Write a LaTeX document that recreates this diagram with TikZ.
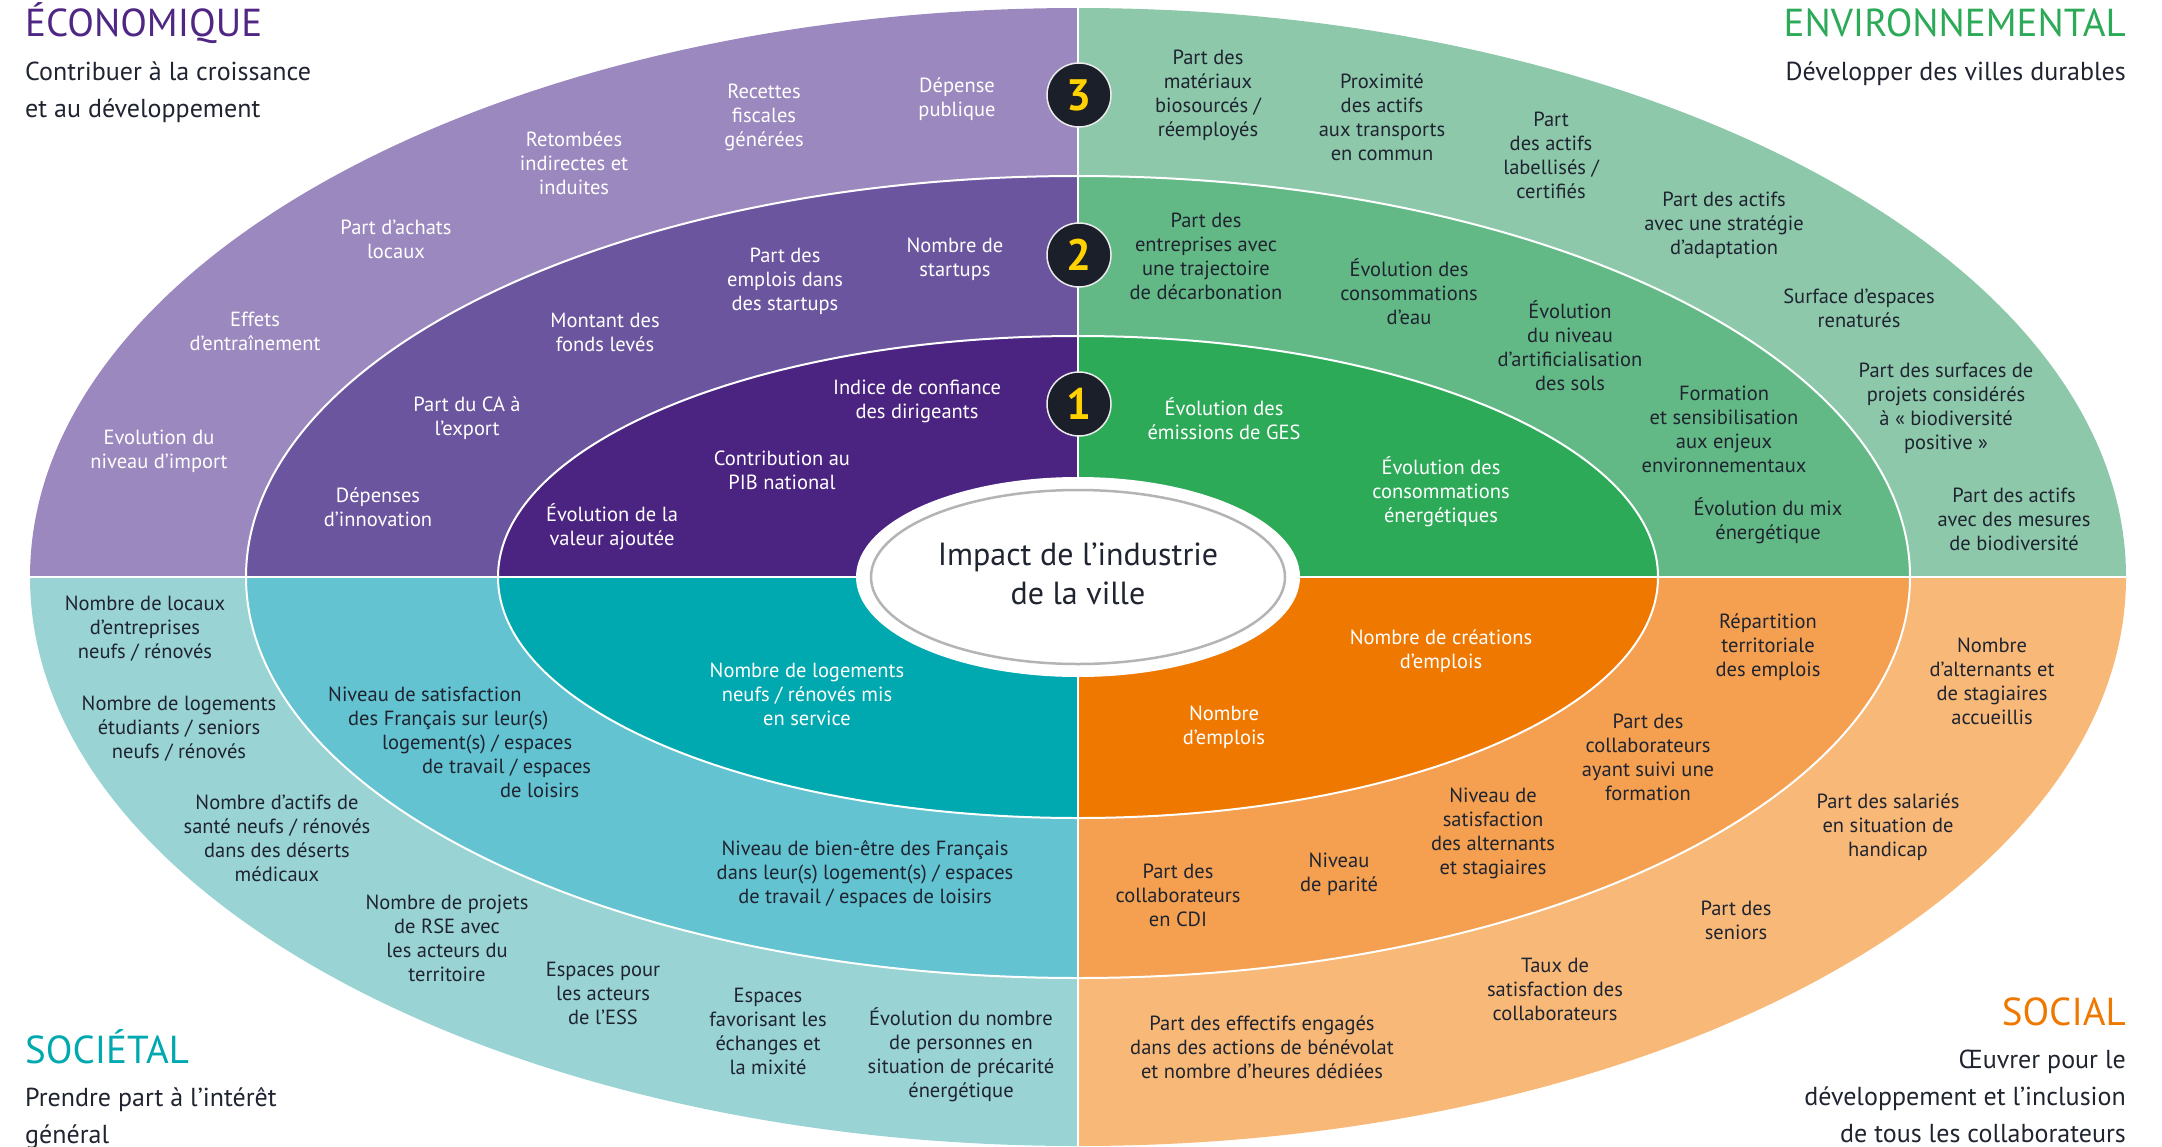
\documentclass[tikz,border=0pt]{standalone}
\usepackage{fontspec}
\setmainfont{PT Sans}
\usetikzlibrary{shapes.geometric}
\definecolor{ecoO}{HTML}{9B88BE}
\definecolor{ecoM}{HTML}{6B559E}
\definecolor{ecoI}{HTML}{4B2380}
\definecolor{envO}{HTML}{8DC8AB}
\definecolor{envM}{HTML}{63B986}
\definecolor{envI}{HTML}{2DAA58}
\definecolor{socO}{HTML}{99D3D4}
\definecolor{socM}{HTML}{63C3D1}
\definecolor{socI}{HTML}{00A8B0}
\definecolor{salO}{HTML}{F8B978}
\definecolor{salM}{HTML}{F4A050}
\definecolor{salI}{HTML}{EF7800}
\definecolor{ecoT}{HTML}{4F2683}
\definecolor{envT}{HTML}{2DAA58}
\definecolor{socT}{HTML}{00A8B0}
\definecolor{salT}{HTML}{EF7800}
\definecolor{dark}{HTML}{1F2430}
\definecolor{numbg}{HTML}{1B1F2A}
\definecolor{numfg}{HTML}{FFD200}
\definecolor{ring}{HTML}{B4B4B4}
\begin{document}
\begin{tikzpicture}[x=1pt,y=-1pt,
  lbl/.style={align=center, font=\fontsize{20.5}{24}\selectfont, inner sep=0pt},
  lw/.style={lbl, text=white},
  ld/.style={lbl, text=dark},
  ttl/.style={inner sep=0pt, font=\fontsize{39}{39}\selectfont},
  sub/.style={inner sep=0pt, text=dark, font=\fontsize{26}{37}\selectfont},
  num/.style={circle, fill=numbg, draw=white!85!gray, line width=1.5pt, minimum size=64pt, inner sep=0pt, text=numfg, font=\bfseries\fontsize{44}{44}\selectfont}]
\useasboundingbox (0,0) rectangle (2162,1146);
\coordinate (C) at (1078,577);
\def\oa{1048pt}\def\ob{569pt}
\def\ma{832pt}\def\mb{401pt}
\def\ia{580pt}\def\ib{241pt}
% quadrants
\begin{scope}
\clip (0,0) rectangle (1078,577);
\fill[ecoO] (C) ellipse[x radius=\oa, y radius=\ob];
\fill[ecoM] (C) ellipse[x radius=\ma, y radius=\mb];
\fill[ecoI] (C) ellipse[x radius=\ia, y radius=\ib];
\end{scope}
\begin{scope}
\clip (1078,0) rectangle (2162,577);
\fill[envO] (C) ellipse[x radius=\oa, y radius=\ob];
\fill[envM] (C) ellipse[x radius=\ma, y radius=\mb];
\fill[envI] (C) ellipse[x radius=\ia, y radius=\ib];
\end{scope}
\begin{scope}
\clip (0,577) rectangle (1078,1146);
\fill[socO] (C) ellipse[x radius=\oa, y radius=\ob];
\fill[socM] (C) ellipse[x radius=\ma, y radius=\mb];
\fill[socI] (C) ellipse[x radius=\ia, y radius=\ib];
\end{scope}
\begin{scope}
\clip (1078,577) rectangle (2162,1146);
\fill[salO] (C) ellipse[x radius=\oa, y radius=\ob];
\fill[salM] (C) ellipse[x radius=\ma, y radius=\mb];
\fill[salI] (C) ellipse[x radius=\ia, y radius=\ib];
\end{scope}
% white separators
\draw[white, line width=2pt] (C) ellipse[x radius=\ma, y radius=\mb];
\draw[white, line width=2pt] (C) ellipse[x radius=\ia, y radius=\ib];
\coordinate (hl) at (30,577); \coordinate (hr) at (2126,577);
\coordinate (vt) at (1078,8); \coordinate (vb) at (1078,1146);
\draw[white, line width=2.5pt] (hl) -- (hr);
\draw[white, line width=2.5pt] (vt) -- (vb);
% centre
\fill[white] (C) ellipse[x radius=222pt, y radius=100pt];
\draw[ring, line width=2.5pt] (C) ellipse[x radius=207pt, y radius=87pt];
\node[inner sep=0pt, align=center, text=dark, font=\fontsize{32}{39}\selectfont] (ctext) at (1078,574) {Impact de l’industrie\\de la ville};
% numbers
\node[num] (n3) at (1079,95) {3};
\node[num] (n2) at (1079,255) {2};
\node[num] (n1) at (1079,404) {1};
% titles
\node[ttl, text=ecoT, anchor=base west] (teco) at (25,36) {ÉCONOMIQUE};
\node[sub, anchor=base west, align=left] (seco) at (25,117) {Contribuer à la croissance\\et au développement};
\node[ttl, text=envT, anchor=base east] (tenv) at (2126,36) {ENVIRONNEMENTAL};
\node[sub, anchor=base east, align=right] (senv) at (2126,80) {Développer des villes durables};
\node[ttl, text=socT, anchor=base west] (tsoc) at (25,1063) {SOCIÉTAL};
\node[sub, anchor=base west, align=left] (ssoc) at (25,1143) {Prendre part à l’intérêt\\général};
\node[ttl, text=salT, anchor=base east] (tsal) at (2126,1025) {SOCIAL};
\node[sub, anchor=base east, align=right] (ssal) at (2126,1142) {Œuvrer pour le\\développement et l’inclusion\\de tous les collaborateurs};
% economique
\node[lw] (e1) at (764,117) {Recettes\\fiscales\\générées};
\node[lw] (e2) at (957,99) {Dépense\\publique};
\node[lw] (e3) at (574,163) {Retombées\\indirectes et\\induites};
\node[lw] (e4) at (396,239) {Part d’achats\\locaux};
\node[lw] (e5) at (255,331) {Effets\\d’entraînement};
\node[lw] (e6) at (159,451) {Evolution du\\niveau d’import};
\node[lw] (e7) at (785,281) {Part des\\emplois dans\\des startups};
\node[lw] (e8) at (955,259) {Nombre de\\startups};
\node[lw] (e9) at (605,332) {Montant des\\fonds levés};
\node[lw] (e10) at (467,418) {Part du CA à\\l’export};
\node[lw] (e11) at (378,507) {Dépenses\\d’innovation};
\node[lw] (e12) at (917,401) {Indice de confiance\\des dirigeants};
\node[lw] (e13) at (782,470) {Contribution au\\PIB national};
\node[lw] (e14) at (612,527) {Évolution de la\\valeur ajoutée};
% environnement
\node[ld] (v1) at (1208,95) {Part des\\matériaux\\biosourcés /\\réemployés};
\node[ld] (v2) at (1382,117) {Proximité\\des actifs\\aux transports\\en commun};
\node[ld] (v3) at (1551,155) {Part\\des actifs\\labellisés /\\certifiés};
\node[ld] (v4) at (1724,225) {Part des actifs\\avec une stratégie\\d’adaptation};
\node[ld] (v5) at (1859,308) {Surface d’espaces\\renaturés};
\node[ld] (v6) at (1946,408) {Part des surfaces de\\projets considérés\\à «~biodiversité\\positive~»};
\node[ld] (v7) at (2014,519) {Part des actifs\\avec des mesures\\de biodiversité};
\node[ld] (v8) at (1206,256) {Part des\\entreprises avec\\une trajectoire\\de décarbonation};
\node[ld] (v9) at (1409,292) {Évolution des\\consommations\\d’eau};
\node[ld] (v10) at (1570,346) {Évolution\\du niveau\\d’artificialisation\\des sols};
\node[ld] (v11) at (1724,429) {Formation\\et sensibilisation\\aux enjeux\\environnementaux};
\node[ld] (v12) at (1768,521) {Évolution du mix\\énergétique};
\node[lw] (v13) at (1224,419) {Évolution des\\émissions de GES};
\node[lw] (v14) at (1441,492) {Évolution des\\consommations\\énergétiques};
% societal
\node[ld] (s1) at (145,629) {Nombre de locaux\\d’entreprises\\neufs / rénovés};
\node[ld] (s2) at (179,729) {Nombre de logements\\étudiants / seniors\\neufs / rénovés};
\node[ld] (s3) at (277,838) {Nombre d’actifs de\\santé neufs / rénovés\\dans des déserts\\médicaux};
\node[ld] (s4) at (447,938) {Nombre de projets\\de RSE avec\\les acteurs du\\territoire};
\node[ld] (s5) at (603,993) {Espaces pour\\les acteurs\\de l’ESS};
\node[ld] (s6) at (768,1031) {Espaces\\favorisant les\\échanges et\\la mixité};
\node[ld] (s7) at (961,1055) {Évolution du nombre\\de personnes en\\situation de précarité\\énergétique};
\node[ld, align=left, anchor=north west] (s8) at (328,687) {Niveau de satisfaction\\\hspace*{20pt}des Français sur leur(s)\\\hspace*{54pt}logement(s) / espaces\\\hspace*{94pt}de travail / espaces\\\hspace*{172pt}de loisirs};
\node[ld] (s9) at (865,874) {Niveau de bien-être des Français\\dans leur(s) logement(s) / espaces\\de travail / espaces de loisirs};
\node[lw] (s10) at (807,694) {Nombre de logements\\neufs / rénovés mis\\en service};
% social
\node[lw] (p1) at (1441,651) {Nombre de créations\\d’emplois};
\node[lw] (p2) at (1224,727) {Nombre\\d’emplois};
\node[ld] (p3) at (1768,647) {Répartition\\territoriale\\des emplois};
\node[ld] (p4) at (1648,757) {Part des\\collaborateurs\\ayant suivi une\\formation};
\node[ld] (p5) at (1493,833) {Niveau de\\satisfaction\\des alternants\\et stagiaires};
\node[ld] (p6) at (1339,874) {Niveau\\de parité};
\node[ld] (p7) at (1178,895) {Part des\\collaborateurs\\en CDI};
\node[ld] (p8) at (1992,681) {Nombre\\d’alternants et\\de stagiaires\\accueillis};
\node[ld] (p9) at (1888,827) {Part des salariés\\en situation de\\handicap};
\node[ld] (p10) at (1736,920) {Part des\\seniors};
\node[ld] (p11) at (1555,989) {Taux de\\satisfaction des\\collaborateurs};
\node[ld] (p12) at (1262,1047) {Part des effectifs engagés\\dans des actions de bénévolat\\et nombre d’heures dédiées};
\end{tikzpicture}
\end{document}
